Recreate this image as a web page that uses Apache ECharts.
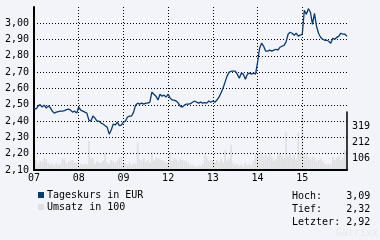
<!DOCTYPE html>
<html><head><meta charset="utf-8">
<script src="https://cdn.jsdelivr.net/npm/echarts@6/dist/echarts.min.js"></script>
<style>html,body{margin:0;padding:0;background:#f3f4fa}#c{width:380px;height:240px}</style>
</head><body><div id="c"></div>
<script>
// Trading days (x-axis tick labels)
const dayLabels = ['07', '08', '09', '12', '13', '14', '15'];
const pointsPerDay = 22;
// Left axis tick labels (price, EUR) and right axis tick labels (volume, in 100)
const priceTicks = ['2,10', '2,20', '2,30', '2,40', '2,50', '2,60', '2,70', '2,80', '2,90', '3,00'];
const volTicks = ['', '106', '212', '319'];

// Intraday price (Tageskurs in EUR), per day
const price07 = [2.48,2.474,2.492,2.501,2.486,2.498,2.48,2.492,2.483,2.461,2.449,2.455,2.458,2.461,2.461,2.464,2.47,2.474,2.467,2.455,2.461,2.449];
const price08 = [2.486,2.467,2.461,2.455,2.449,2.406,2.4,2.431,2.418,2.4,2.4,2.388,2.382,2.372,2.363,2.32,2.345,2.382,2.376,2.394,2.372,2.376];
const price09 = [2.394,2.4,2.425,2.431,2.431,2.455,2.498,2.51,2.504,2.51,2.504,2.51,2.51,2.516,2.578,2.565,2.553,2.529,2.565,2.553,2.559,2.547];
const price12 = [2.565,2.541,2.529,2.529,2.523,2.51,2.492,2.486,2.498,2.504,2.504,2.507,2.516,2.523,2.516,2.51,2.516,2.51,2.513,2.51,2.523,2.516];
const price13 = [2.523,2.516,2.529,2.547,2.572,2.602,2.639,2.676,2.7,2.706,2.706,2.706,2.688,2.663,2.694,2.688,2.657,2.688,2.694,2.688,2.694,2.688];
const price14 = [2.761,2.847,2.878,2.859,2.829,2.829,2.835,2.829,2.835,2.841,2.835,2.853,2.859,2.865,2.884,2.933,2.945,2.939,2.927,2.939,2.921,2.927];
const price15 = [2.933,3.08,3.055,3.09,3.068,2.994,3.061,2.982,2.939,2.914,2.902,2.896,2.896,2.89,2.878,2.908,2.902,2.914,2.921,2.939,2.933,2.933];
const priceLast = [2.92];

// Volume (Umsatz in 100), per day
const vol07 = [50,65,40,60,55,78,70,45,35,40,30,45,35,40,78,70,40,55,60,65,50,45];
const vol08 = [30,40,35,40,35,190,80,75,40,55,50,45,60,110,50,40,65,55,45,60,80,85];
const vol09 = [40,45,35,50,30,45,40,175,70,60,80,55,65,45,115,60,80,75,70,65,60,50];
const vol12 = [45,115,60,80,70,55,75,65,60,55,45,30,35,25,20,30,25,40,100,85,60,65];
const vol13 = [60,50,65,55,75,50,130,60,75,165,45,30,40,25,35,20,45,30,40,30,60,105];
const vol14 = [110,95,115,90,100,85,110,85,60,70,95,110,100,80,245,90,110,80,95,70,245,110];
const vol15 = [358,95,110,85,70,85,80,55,65,75,55,40,35,40,35,85,65,80,90,65,75,130];
const volLast = [60];

const prices = [].concat(price07, price08, price09, price12, price13, price14, price15, priceLast);
const volumes = [].concat(vol07, vol08, vol09, vol12, vol13, vol14, vol15, volLast);
const categories = [];
dayLabels.forEach(d => { for (let j = 0; j < pointsPerDay; j++) categories.push(d + '/' + j); });
categories.push('end');
const lastIdx = categories.length - 1;

const fmt = v => v.toFixed(2).replace('.', ',');
const hoch = Math.max(...prices), tief = Math.min(...prices), letzter = prices[prices.length - 1];

const FONT = 'DejaVu Sans Mono';
const NAVY = '#0b3a6c';
const GRAY = '#e1e1e3';
const dotted = { color: '#000', width: 1, type: [1, 2] };

const chart = echarts.init(document.getElementById('c'), null, { renderer: 'canvas' });
chart.setOption({
  animation: false,
  backgroundColor: '#f3f4fa',
  textStyle: { fontFamily: FONT, fontSize: 10, color: '#000' },
  grid: [
    { left: 34, right: 33, top: 7, bottom: 70 },
    { left: 34, right: 33, top: 112, bottom: 70 }
  ],
  xAxis: [
    {
      type: 'category', gridIndex: 0, data: categories, boundaryGap: false,
      axisLine: { show: true, lineStyle: { color: '#000', width: 2 } },
      axisTick: { show: false },
      axisLabel: {
        interval: (i) => i % pointsPerDay === 0 && i < lastIdx,
        formatter: (v) => v.split('/')[0],
        margin: 3, color: '#000', fontFamily: FONT, fontSize: 10
      },
      splitLine: {
        show: true,
        interval: (i) => i % pointsPerDay === 0 && i > 0 && i < lastIdx,
        lineStyle: dotted
      }
    },
    {
      type: 'category', gridIndex: 1, data: categories, boundaryGap: false,
      axisLine: { show: false }, axisTick: { show: false }, axisLabel: { show: false }, splitLine: { show: false }
    }
  ],
  yAxis: [
    {
      type: 'value', gridIndex: 0, min: 2.1, max: 3.1, interval: 0.1,
      axisLine: { show: true, lineStyle: { color: '#000', width: 2 } },
      axisTick: { show: false },
      axisLabel: {
        formatter: (v, i) => priceTicks[i] || '',
        margin: 5, color: '#000', fontFamily: FONT, fontSize: 10,
        padding: [0, 0, 5, 0]
      },
      splitLine: { show: true, showMinLine: false, showMaxLine: false, lineStyle: dotted }
    },
    {
      type: 'value', gridIndex: 1, position: 'right', min: 0, max: 377.7, interval: 106.33,
      axisLine: { show: true, lineStyle: { color: '#000', width: 1.5 } },
      axisTick: { show: false },
      axisLabel: {
        formatter: (v, i) => volTicks[i] || '',
        margin: 5, color: '#000', fontFamily: FONT, fontSize: 10, verticalAlign: 'top'
      },
      splitLine: { show: false }
    }
  ],
  legend: {
    orient: 'vertical', left: 33, top: 184, itemWidth: 6, itemHeight: 6, itemGap: 0,
    icon: 'rect',
    textStyle: { fontFamily: FONT, fontSize: 10, color: '#000', lineHeight: 12, padding: [0, 0, 0, -2] },
    data: ['Tageskurs in EUR', 'Umsatz in 100']
  },
  series: [
    {
      name: 'Umsatz in 100', type: 'bar', xAxisIndex: 1, yAxisIndex: 1, data: volumes,
      barWidth: '90%', itemStyle: { color: GRAY }, z: -1, silent: true
    },
    {
      name: 'Tageskurs in EUR', type: 'line', xAxisIndex: 0, yAxisIndex: 0, data: prices,
      showSymbol: false, symbol: 'none', color: NAVY,
      lineStyle: { color: NAVY, width: 1.3 }, itemStyle: { color: NAVY }, z: 3
    }
  ],
  graphic: [
    { type: 'text', left: 292, top: 191, style: { text: 'Hoch:    ' + fmt(hoch), font: '10px "' + FONT + '"', fill: '#000' } },
    { type: 'text', left: 292, top: 204, style: { text: 'Tief:    ' + fmt(tief), font: '10px "' + FONT + '"', fill: '#000' } },
    { type: 'text', left: 292, top: 217, style: { text: 'Letzter: ' + fmt(letzter), font: '10px "' + FONT + '"', fill: '#000' } },
    { type: 'text', left: 336, top: 228, style: { text: 'Gatrixx', font: '10px "' + FONT + '"', fill: '#e6e8f0' } }
  ]
});
</script>
</body></html>
